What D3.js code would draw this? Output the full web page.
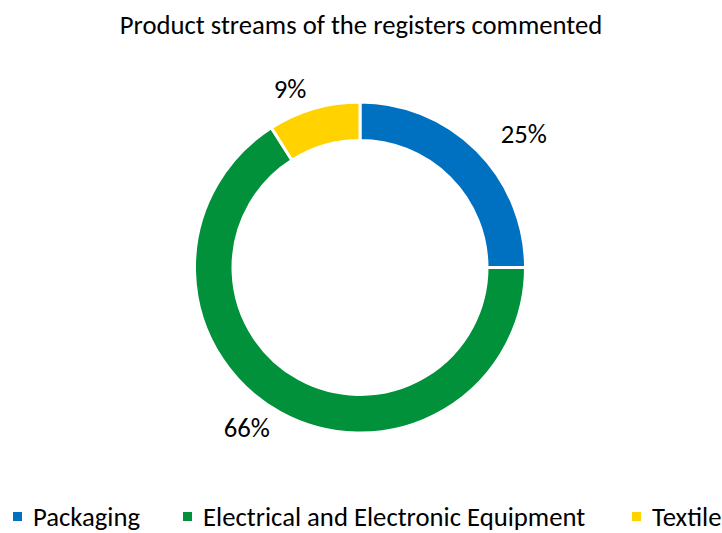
<!DOCTYPE html>
<html>
<head>
<meta charset="utf-8">
<script src="https://cdn.jsdelivr.net/npm/d3@7/dist/d3.min.js"></script>
<style>
  html, body { margin: 0; padding: 0; background: #fff; }
  svg { display: block; }
  text { font-family: Carlito, "Open Sans", sans-serif; fill: #000; }
</style>
</head>
<body>
<svg id="chart" width="722" height="533"></svg>
<script>
const title = "Product streams of the registers commented";
const categories = ["Packaging", "Electrical and Electronic Equipment", "Textile"];
const values = [25, 66, 9];
const colors = ["#0070C0", "#00913A", "#FFD200"];
// label nudges (styling) relative to arc centroid at label radius
const labelNudge = [[27, 3], [-20, -9], [-16, 7]];

const W = 722, H = 533;
const cx = 360, cy = 267.5, outerR = 165.5, innerR = 127;
const fs = "26.7px";

const svg = d3.select("#chart");

svg.append("text")
  .attr("x", 361).attr("y", 33.5)
  .attr("text-anchor", "middle")
  .style("font-size", fs)
  .text(title);

const pie = d3.pie().sort(null).value(d => d)(values);
const arc = d3.arc().innerRadius(innerR).outerRadius(outerR);
const labelArc = d3.arc().innerRadius(outerR + 28).outerRadius(outerR + 28);

const g = svg.append("g").attr("transform", `translate(${cx},${cy})`);
g.selectAll("path").data(pie).join("path")
  .attr("d", arc)
  .attr("fill", (d, i) => colors[i])
  .attr("stroke", "#fff")
  .attr("stroke-width", 3);

const fmt = d3.format(".0%");
const total = d3.sum(values);
g.selectAll("text.lbl").data(pie).join("text")
  .attr("class", "lbl")
  .attr("transform", (d, i) => {
    const c = labelArc.centroid(d);
    return `translate(${c[0] + labelNudge[i][0]},${c[1] + labelNudge[i][1]})`;
  })
  .attr("text-anchor", "middle")
  .attr("dy", "0.35em")
  .style("font-size", fs)
  .text(d => fmt(d.data / total));

// legend
const legendX = [13, 183, 632];
const leg = svg.append("g");
categories.forEach((c, i) => {
  leg.append("rect")
    .attr("x", legendX[i]).attr("y", 512)
    .attr("width", 9).attr("height", 9)
    .attr("fill", colors[i]);
  leg.append("text")
    .attr("x", legendX[i] + 20).attr("y", 525.5)
    .style("font-size", fs)
    .text(c);
});
</script>
</body>
</html>
